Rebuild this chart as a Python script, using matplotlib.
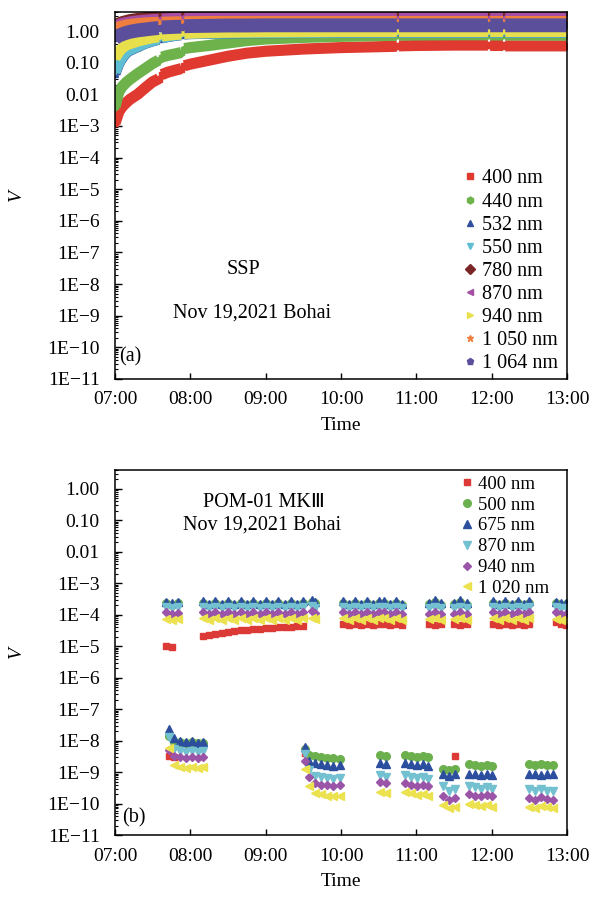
import numpy as np
import matplotlib
matplotlib.use('Agg')
import matplotlib.pyplot as plt
from matplotlib.ticker import FixedLocator, LogLocator, NullFormatter

plt.rcParams['font.family'] = ['Liberation Serif', 'DejaVu Sans']
nan = np.nan

# ---------------- panel (a): SSP ----------------
ta = [7.0, 7.05, 7.1, 7.15, 7.2, 7.3, 7.4, 7.5, 7.58, nan, 7.62, 7.7, 7.8, 7.88, nan,
      7.92, 8.0, 8.25, 8.5, 8.75, 9.0, 9.5, 10.0, 10.5, 10.74, nan, 10.77, 11.0, 11.5,
      11.95, nan, 11.98, 12.15, nan, 12.18, 12.5, 13.0]

ssp_400 = [1.2e-3, 2.8e-3, 4.2e-3, 5.5e-3, 7e-3, 0.010, 0.016, 0.025, 0.031, nan, 0.042, 0.05, 0.058, 0.065, nan,
           0.08, 0.09, 0.12, 0.16, 0.2, 0.23, 0.27, 0.3, 0.32, 0.33, nan, 0.34, 0.35, 0.36,
           0.36, nan, 0.35, 0.35, nan, 0.34, 0.34, 0.34]
ssp_440 = [0.004, 0.012, 0.018, 0.024, 0.03, 0.045, 0.065, 0.095, 0.12, nan, 0.15, 0.17, 0.19, 0.21, nan,
           0.28, 0.3, 0.35, 0.42, 0.5, 0.56, 0.63, 0.68, 0.72, 0.73, nan, 0.74, 0.75, 0.76,
           0.76, nan, 0.75, 0.75, nan, 0.75, 0.75, 0.74]
ssp_532 = [0.045, 0.095, 0.15, 0.21, 0.25, 0.32, 0.41, 0.49, 0.55, nan, 0.61, 0.67, 0.73, 0.77, nan,
           0.81, 0.83, 0.85, 0.87, 0.89, 0.89, 0.9, 0.91, 0.91, 0.91, nan, 0.91, 0.91, 0.91,
           0.91, nan, 0.91, 0.91, nan, 0.91, 0.91, 0.91]
ssp_550 = [0.05, 0.1, 0.16, 0.22, 0.26, 0.33, 0.42, 0.5, 0.56, nan, 0.62, 0.68, 0.74, 0.78, nan,
           0.82, 0.84, 0.86, 0.88, 0.9, 0.9, 0.91, 0.92, 0.92, 0.92, nan, 0.92, 0.92, 0.92,
           0.92, nan, 0.92, 0.92, nan, 0.92, 0.92, 0.92]
ssp_780 = [1.5, 1.8, 2.0, 2.15, 2.3, 2.5, 2.65, 2.75, 2.85, nan, 2.9, 2.95, 3.0, 3.05, nan,
           3.1, 3.1, 3.15, 3.2, 3.2, 3.2, 3.2, 3.2, 3.2, 3.2, nan, 3.2, 3.2, 3.2,
           3.2, nan, 3.2, 3.2, nan, 3.2, 3.2, 3.2]
ssp_870 = [1.4, 1.6, 1.75, 1.85, 1.95, 2.1, 2.2, 2.3, 2.35, nan, 2.4, 2.45, 2.5, 2.5, nan,
           2.55, 2.55, 2.6, 2.6, 2.6, 2.6, 2.6, 2.6, 2.6, 2.6, nan, 2.6, 2.6, 2.6,
           2.6, nan, 2.6, 2.6, nan, 2.6, 2.6, 2.6]
ssp_940 = [0.14, 0.22, 0.3, 0.36, 0.4, 0.48, 0.55, 0.62, 0.66, nan, 0.7, 0.74, 0.78, 0.8, nan,
           0.84, 0.86, 0.9, 0.92, 0.94, 0.95, 0.96, 0.97, 0.97, 0.97, nan, 0.97, 0.97, 0.97,
           0.97, nan, 0.97, 0.97, nan, 0.97, 0.97, 0.97]
ssp_1050 = [1.2, 1.35, 1.45, 1.55, 1.62, 1.72, 1.8, 1.85, 1.88, nan, 1.9, 1.92, 1.95, 1.95, nan,
            1.95, 1.97, 2.0, 2.0, 2.0, 2.0, 2.0, 2.0, 2.0, 2.0, nan, 2.0, 2.0, 2.0,
            2.0, nan, 2.0, 2.0, nan, 2.0, 2.0, 2.0]
ssp_1064 = [0.6, 0.72, 0.8, 0.88, 0.95, 1.05, 1.12, 1.2, 1.25, nan, 1.3, 1.33, 1.36, 1.38, nan,
            1.42, 1.44, 1.47, 1.5, 1.5, 1.52, 1.52, 1.52, 1.52, 1.52, nan, 1.52, 1.52, 1.52,
            1.52, nan, 1.52, 1.52, nan, 1.52, 1.52, 1.52]

ssp_series = [('400 nm', ssp_400, 's', '#e0392f'),
              ('440 nm', ssp_440, 'h', '#6db24b'),
              ('532 nm', ssp_532, '^', '#2f4f9c'),
              ('550 nm', ssp_550, 'v', '#5fbfd2'),
              ('780 nm', ssp_780, 'D', '#7a2626'),
              ('870 nm', ssp_870, '<', '#a64ea4'),
              ('940 nm', ssp_940, '>', '#e8df4c'),
              ('1 050 nm', ssp_1050, '*', '#f07e3e'),
              ('1 064 nm', ssp_1064, 'p', '#5b4f9c')]

# ---------------- panel (b): POM-01 MKIII ----------------
t_hi = [7.68, 7.76, 7.84,
        8.17, 8.25, 8.33, 8.42, 8.50, 8.58, 8.67, 8.75, 8.83, 8.92, 9.00, 9.08, 9.17, 9.25, 9.33, 9.42, 9.50,
        9.62, 9.66,
        10.02, 10.10, 10.18, 10.27, 10.35, 10.43, 10.50,
        10.57, 10.65, 10.73, 10.81,
        11.17, 11.25, 11.33,
        11.50, 11.58, 11.67,
        12.02, 12.10, 12.18, 12.27, 12.35, 12.43, 12.50,
        12.85, 12.92, 12.98]
t_lo = [7.72, 7.78, 7.86, 7.94, 8.02, 8.10, 8.17,
        9.52, 9.58, 9.66, 9.74, 9.82, 9.90, 9.98,
        10.52, 10.60,
        10.85, 10.93, 11.01, 11.09, 11.15,
        11.35, 11.43, 11.51,
        11.70, 11.78, 11.86, 11.94, 12.01,
        12.50, 12.58, 12.66, 12.74, 12.82]

pom_400_hi = [1.0e-5, 0.95e-5, nan,
              2.1e-5, 2.3e-5, 2.5e-5, 2.7e-5, 2.9e-5, 3.1e-5, 3.2e-5, 3.4e-5, 3.5e-5, 3.6e-5, 3.8e-5, 3.9e-5, 4.0e-5, 4.1e-5, 4.2e-5, 4.3e-5, 4.4e-5,
              nan, nan,
              5.0e-5, 4.7e-5, 5.1e-5, 4.8e-5, 5.0e-5, 4.7e-5, 5.0e-5,
              5.1e-5, 4.8e-5, 5.0e-5, 4.7e-5,
              5.0e-5, 4.8e-5, 5.1e-5,
              5.0e-5, 4.7e-5, 5.0e-5,
              5.0e-5, 4.7e-5, 5.1e-5, 4.8e-5, 5.0e-5, 4.7e-5, 5.2e-5,
              6.0e-5, 5.0e-5, 4.6e-5]
pom_500_hi = [2.3e-4, 2.1e-4, 2.3e-4,
              2.4e-4, 2.1e-4, 2.4e-4, 2.1e-4, 2.4e-4, 2.1e-4, 2.4e-4, 2.1e-4, 2.4e-4, 2.1e-4, 2.4e-4, 2.1e-4, 2.4e-4, 2.1e-4, 2.4e-4, 2.1e-4, 2.4e-4,
              2.6e-4, 2.3e-4,
              2.4e-4, 2.1e-4, 2.4e-4, 2.1e-4, 2.4e-4, 2.1e-4, 2.4e-4,
              2.4e-4, 2.1e-4, 2.4e-4, 2.1e-4,
              2.2e-4, 2.5e-4, 2.1e-4,
              2.2e-4, 2.5e-4, 2.1e-4,
              2.4e-4, 2.1e-4, 2.4e-4, 2.1e-4, 2.4e-4, 2.1e-4, 2.4e-4,
              2.3e-4, 2.1e-4, 2.2e-4]
pom_675_hi = [2.6e-4, 2.3e-4, 2.5e-4,
              2.8e-4, 2.2e-4, 2.8e-4, 2.2e-4, 2.8e-4, 2.2e-4, 2.8e-4, 2.2e-4, 2.8e-4, 2.2e-4, 2.8e-4, 2.2e-4, 2.8e-4, 2.2e-4, 2.8e-4, 2.2e-4, 2.8e-4,
              3.0e-4, 2.6e-4,
              2.8e-4, 2.2e-4, 2.8e-4, 2.2e-4, 2.8e-4, 2.2e-4, 2.8e-4,
              2.8e-4, 2.2e-4, 2.8e-4, 2.2e-4,
              2.4e-4, 2.9e-4, 2.3e-4,
              2.4e-4, 2.9e-4, 2.3e-4,
              2.8e-4, 2.2e-4, 2.8e-4, 2.2e-4, 2.8e-4, 2.2e-4, 2.8e-4,
              2.6e-4, 2.3e-4, 2.4e-4]
pom_870_hi = [1.8e-4, 1.7e-4, 1.8e-4,
              1.8e-4, 1.6e-4, 1.8e-4, 1.6e-4, 1.8e-4, 1.6e-4, 1.8e-4, 1.6e-4, 1.8e-4, 1.6e-4, 1.8e-4, 1.6e-4, 1.8e-4, 1.6e-4, 1.8e-4, 1.6e-4, 1.8e-4,
              1.9e-4, 1.7e-4,
              1.8e-4, 1.6e-4, 1.8e-4, 1.6e-4, 1.8e-4, 1.6e-4, 1.8e-4,
              1.8e-4, 1.6e-4, 1.8e-4, 1.6e-4,
              1.7e-4, 1.8e-4, 1.6e-4,
              1.7e-4, 1.8e-4, 1.6e-4,
              1.8e-4, 1.6e-4, 1.8e-4, 1.6e-4, 1.8e-4, 1.6e-4, 1.8e-4,
              1.8e-4, 1.6e-4, 1.7e-4]
pom_940_hi = [1.2e-4, 1.1e-4, 1.15e-4,
              1.25e-4, 1.05e-4, 1.25e-4, 1.05e-4, 1.25e-4, 1.05e-4, 1.25e-4, 1.05e-4, 1.25e-4, 1.05e-4, 1.25e-4, 1.05e-4, 1.25e-4, 1.05e-4, 1.25e-4, 1.05e-4, 1.25e-4,
              1.3e-4, 1.15e-4,
              1.25e-4, 1.05e-4, 1.25e-4, 1.05e-4, 1.25e-4, 1.05e-4, 1.25e-4,
              1.25e-4, 1.05e-4, 1.25e-4, 1.05e-4,
              1.1e-4, 1.25e-4, 1.05e-4,
              1.1e-4, 1.25e-4, 1.05e-4,
              1.25e-4, 1.05e-4, 1.25e-4, 1.05e-4, 1.25e-4, 1.05e-4, 1.25e-4,
              1.2e-4, 1.05e-4, 1.1e-4]
pom_1020_hi = [7.4e-5, 7.0e-5, 7.4e-5,
               8.0e-5, 6.8e-5, 8.0e-5, 6.8e-5, 8.0e-5, 6.8e-5, 8.0e-5, 6.8e-5, 8.0e-5, 6.8e-5, 8.0e-5, 6.8e-5, 8.0e-5, 6.8e-5, 8.0e-5, 6.8e-5, 8.0e-5,
               8.2e-5, 7.2e-5,
               8.0e-5, 6.8e-5, 8.0e-5, 6.8e-5, 8.0e-5, 6.8e-5, 8.0e-5,
               8.0e-5, 6.8e-5, 8.0e-5, 6.8e-5,
               7.2e-5, 8.0e-5, 6.8e-5,
               7.2e-5, 8.0e-5, 6.8e-5,
               8.0e-5, 6.8e-5, 8.0e-5, 6.8e-5, 8.0e-5, 6.8e-5, 8.0e-5,
               7.6e-5, 6.8e-5, 7.0e-5]

pom_400_lo = [3.3e-9, 3.0e-9, nan, nan, nan, nan, nan,
              4.0e-9, nan, nan, nan, nan, nan, nan,
              nan, nan,
              nan, nan, nan, nan, nan,
              nan, nan, 3.3e-9,
              nan, nan, nan, nan, nan,
              nan, nan, nan, nan, nan]
pom_500_lo = [1.4e-8, 9e-9, 9e-9, 8.5e-9, 9e-9, 8.5e-9, 8.5e-9,
              5.5e-9, 3.4e-9, 3.2e-9, 3.0e-9, 2.9e-9, 2.8e-9, 2.7e-9,
              3.6e-9, 3.3e-9,
              3.6e-9, 3.3e-9, 3.1e-9, 3.3e-9, 3.0e-9,
              1.3e-9, 1.2e-9, 1.3e-9,
              1.8e-9, 1.7e-9, 1.6e-9, 1.7e-9, 1.6e-9,
              1.8e-9, 1.7e-9, 1.8e-9, 1.7e-9, 1.7e-9]
pom_675_lo = [2.3e-8, 1.2e-8, 9.5e-9, 9e-9, 9.5e-9, 8.5e-9, 9e-9,
              6.5e-9, 2.2e-9, 1.9e-9, 1.8e-9, 1.7e-9, 1.6e-9, 1.7e-9,
              2.0e-9, 1.8e-9,
              2.0e-9, 1.8e-9, 1.7e-9, 1.8e-9, 1.6e-9,
              8.5e-10, 7.5e-10, 8.5e-10,
              9e-10, 8.5e-10, 8e-10, 8.5e-10, 8e-10,
              9e-10, 8.5e-10, 8e-10, 8.5e-10, 8.5e-10]
pom_870_lo = [1.3e-8, 5.5e-9, 4.8e-9, 4.5e-9, 4.8e-9, 4.3e-9, 4.6e-9,
              3.8e-9, 1.2e-9, 7.5e-10, 7e-10, 6.5e-10, 6e-10, 6.5e-10,
              8e-10, 7e-10,
              8e-10, 7e-10, 6.5e-10, 7e-10, 6e-10,
              3.5e-10, 2.6e-10, 3e-10,
              3.6e-10, 3.3e-10, 3e-10, 3.3e-10, 3e-10,
              2.8e-10, 2.5e-10, 2.9e-10, 2.6e-10, 2.5e-10]
pom_940_lo = [5e-9, 3.3e-9, 3.0e-9, 2.8e-9, 3.0e-9, 2.8e-9, 3.0e-9,
              2.3e-9, 7e-10, 4.5e-10, 4e-10, 3.8e-10, 3.5e-10, 3.8e-10,
              4.8e-10, 4.4e-10,
              4.4e-10, 4e-10, 3.7e-10, 3.9e-10, 3.5e-10,
              1.8e-10, 1.3e-10, 1.5e-10,
              2.0e-10, 1.8e-10, 1.7e-10, 1.9e-10, 1.7e-10,
              1.5e-10, 1.3e-10, 1.6e-10, 1.4e-10, 1.3e-10]
pom_1020_lo = [6e-9, 1.7e-9, 1.5e-9, 1.4e-9, 1.5e-9, 1.4e-9, 1.5e-9,
               1.3e-9, 3.5e-10, 2.2e-10, 2e-10, 1.8e-10, 1.7e-10, 1.8e-10,
               2.4e-10, 2.1e-10,
               2.3e-10, 2.1e-10, 1.9e-10, 2.0e-10, 1.8e-10,
               9e-11, 7e-11, 8e-11,
               1.0e-10, 9e-11, 8.5e-11, 9e-11, 8e-11,
               8e-11, 7e-11, 8.5e-11, 7.5e-11, 7e-11]

pom_series = [('400 nm', pom_400_hi, pom_400_lo, 's', 5, '#dc3a36'),
              ('500 nm', pom_500_hi, pom_500_lo, 'o', 5.5, '#6bb04d'),
              ('675 nm', pom_675_hi, pom_675_lo, '^', 6, '#2c4e9e'),
              ('870 nm', pom_870_hi, pom_870_lo, 'v', 6, '#72c0d0'),
              ('940 nm', pom_940_hi, pom_940_lo, 'D', 4.3, '#9a55a8'),
              ('1 020 nm', pom_1020_hi, pom_1020_lo, '<', 6, '#ece24f')]

hours = [7, 8, 9, 10, 11, 12, 13]
hour_labels = ['07:00', '08:00', '09:00', '10:00', '11:00', '12:00', '13:00']
decades = [10.0 ** k for k in range(0, -12, -1)]
decade_labels = ['1.00', '0.10', '0.01'] + ['1E\u2212%d' % k for k in range(3, 12)]

fig = plt.figure(figsize=(5.92, 8.97), dpi=100)
ax1 = fig.add_axes([0.1943, 0.5775, 0.7635, 0.4091])
ax2 = fig.add_axes([0.1943, 0.0691, 0.7635, 0.4069])


def style_axes(ax):
    ax.set_yscale('log')
    ax.set_xlim(7, 13)
    ax.set_ylim(1e-11, 4)
    ax.yaxis.set_major_locator(FixedLocator(decades))
    ax.set_yticklabels(decade_labels)
    ax.yaxis.set_minor_locator(LogLocator(base=10, subs=np.arange(2, 10), numticks=30))
    ax.yaxis.set_minor_formatter(NullFormatter())
    ax.set_xticks(hours)
    ax.set_xticklabels(hour_labels)
    ax.tick_params(axis='both', which='both', direction='in', top=False, right=False, labelsize=14)
    ax.tick_params(axis='y', which='major', length=5, width=1, pad=11)
    ax.tick_params(axis='y', which='minor', length=2.5, width=0.8)
    ax.tick_params(axis='x', which='major', length=4, width=1, pad=9)
    for s in ax.spines.values():
        s.set_linewidth(1.1)
    ax.set_xlabel('Time', fontsize=14, labelpad=6)
    ax.set_ylabel('V', fontsize=14, fontstyle='italic')
    ax.yaxis.set_label_coords(-0.2, 0.5)


# panel (a): dense records drawn as thick bands
for label, vals, mk, col in ssp_series:
    lw = 10 if label == '1 064 nm' else 8
    ax1.plot(ta, vals, color=col, lw=lw, solid_capstyle='butt',
             marker=mk, ms=5, mec=col, label=label)
style_axes(ax1)
ax1.legend(loc='lower right', bbox_to_anchor=(0.98, 0.015), frameon=False,
           fontsize=14.5, handlelength=0, handletextpad=0.6, labelspacing=0.2,
           borderpad=0, borderaxespad=0, numpoints=1)
ax1.text(0.283, 0.297, 'SSP', transform=ax1.transAxes, ha='center', va='center', fontsize=14.5)
ax1.text(0.303, 0.18, 'Nov 19,2021 Bohai', transform=ax1.transAxes, ha='center', va='center', fontsize=14.5)
ax1.text(0.008, 0.06, '(a)', transform=ax1.transAxes, ha='left', va='center', fontsize=14.5)

# panel (b)
for label, hi, lo, mk, ms, col in pom_series:
    ax2.plot(t_hi + t_lo, hi + lo, ls='none', marker=mk, ms=ms, color=col, mec=col, label=label)
style_axes(ax2)
ax2.legend(loc='upper right', bbox_to_anchor=(0.96, 0.985), frameon=False,
           fontsize=13.5, handlelength=0, handletextpad=0.6, labelspacing=0.2,
           borderpad=0, borderaxespad=0, numpoints=1)
ax2.text(0.33, 0.91, 'POM-01 MK\u2162', transform=ax2.transAxes, ha='center', va='center', fontsize=14.5)
ax2.text(0.326, 0.849, 'Nov 19,2021 Bohai', transform=ax2.transAxes, ha='center', va='center', fontsize=14.5)
ax2.text(0.015, 0.047, '(b)', transform=ax2.transAxes, ha='left', va='center', fontsize=14.5)

fig.savefig('out.png', dpi=100)
